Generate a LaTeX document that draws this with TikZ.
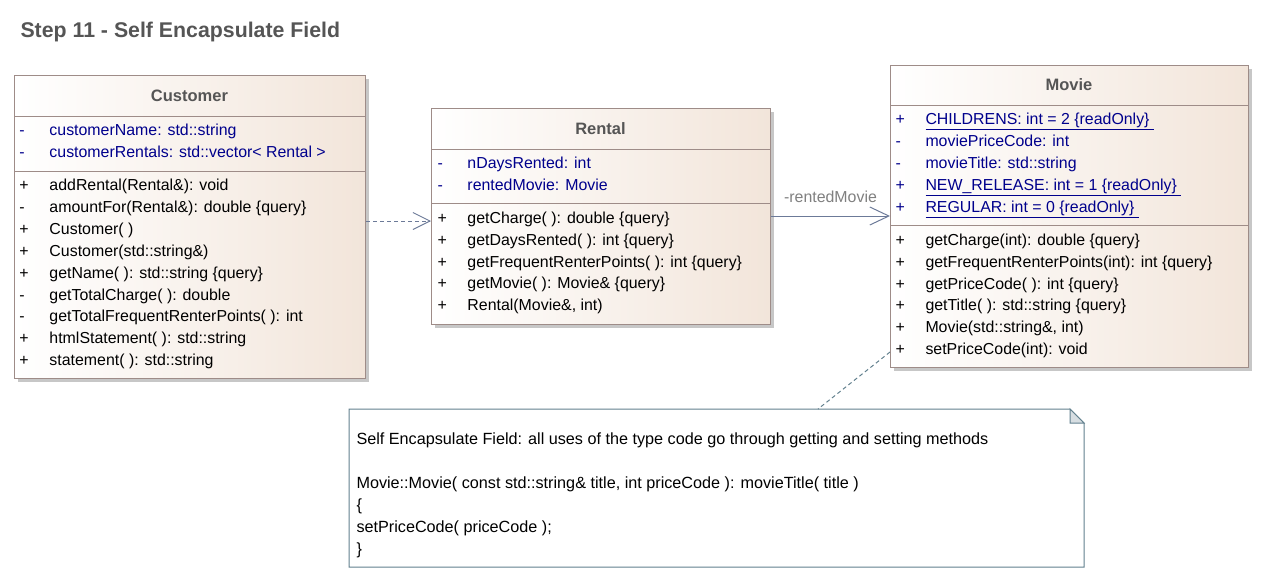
\documentclass[tikz,border=0pt]{standalone}
\usepackage{fontspec}
\setmainfont{Liberation Sans}
\usetikzlibrary{arrows.meta,shadows}

\definecolor{classedge}{RGB}{158,140,136}
\definecolor{classtint}{RGB}{242,229,218}
\definecolor{attrblue}{RGB}{0,0,140}
\definecolor{headgray}{RGB}{85,85,85}
\definecolor{linkblue}{RGB}{108,122,152}
\definecolor{noteedge}{RGB}{98,128,142}
\definecolor{foldgray}{RGB}{215,222,226}

\newcommand\vis[1]{\makebox[30pt][l]{#1}}
\newcommand\memberfont{\fontsize{15.9}{18}\selectfont}

\tikzset{
  classbox/.style={draw=classedge, left color=white, right color=classtint,
    anchor=north west, inner sep=0pt,
    drop shadow={shadow xshift=3pt, shadow yshift=-3pt, fill=black!22, opacity=1}},
  classrule/.style={draw=classedge},
  classname/.style={font=\bfseries\fontsize{16.5}{19}\selectfont, text=headgray},
  member/.style={anchor=west, inner sep=0pt, text height=13pt, text depth=2pt, font=\memberfont},
  attr/.style={member, text=attrblue},
  dep/.style={draw=linkblue, dash pattern=on 4pt off 3pt, -{Straight Barb[length=17pt,width=17pt]}},
  assoc/.style={draw=linkblue, -{Straight Barb[length=19pt,width=18pt]}},
  notelink/.style={draw=noteedge, dash pattern=on 4pt off 3pt},
}

\begin{document}
\begin{tikzpicture}[x=1pt, y=-1pt, line width=1pt]
  \useasboundingbox (0,0) rectangle (1268,581);

  \node[anchor=west, inner sep=0pt, font=\bfseries\fontsize{21.3}{24}\selectfont, text=headgray]
    (title) at (20,32) {Step 11 - Self Encapsulate Field};

  % Customer
  \node[classbox, minimum width=351pt, minimum height=303pt] (customer) at (14,75) {};
  \draw[classrule] (customer.west |- 0,116) -- (customer.east |- 0,116);
  \draw[classrule] (customer.west |- 0,171) -- (customer.east |- 0,171);
  \node[classname] (customer-name) at (189.5,96) {Customer};
  \foreach [count=\i] \v/\t in {-/customerName: std::string, -/customerRentals: std::vector< Rental >}
    \node[attr] (customer-attr\i) at (19,{130+22*(\i-1)}) {\vis{\v}\t};
  \foreach [count=\i] \v/\t in {+/addRental(Rental\&): void, -/amountFor(Rental\&): double \{query\},
      +/Customer( ), +/Customer(std::string\&), +/getName( ): std::string \{query\},
      -/getTotalCharge( ): double, -/getTotalFrequentRenterPoints( ): int,
      +/htmlStatement( ): std::string, +/statement( ): std::string}
    \node[member] (customer-op\i) at (19,{185+21.9*(\i-1)}) {\vis{\v}\t};

  % Rental
  \node[classbox, minimum width=339pt, minimum height=216pt] (rental) at (431,108) {};
  \draw[classrule] (rental.west |- 0,149) -- (rental.east |- 0,149);
  \draw[classrule] (rental.west |- 0,203) -- (rental.east |- 0,203);
  \node[classname] (rental-name) at (600.5,129) {Rental};
  \foreach [count=\i] \v/\t in {-/nDaysRented: int, -/rentedMovie: Movie}
    \node[attr] (rental-attr\i) at (437,{163+22*(\i-1)}) {\vis{\v}\t};
  \foreach [count=\i] \v/\t in {+/getCharge( ): double \{query\}, +/getDaysRented( ): int \{query\},
      +/getFrequentRenterPoints( ): int \{query\}, +/getMovie( ): Movie\& \{query\},
      +/{Rental(Movie\&, int)}}
    \node[member] (rental-op\i) at (437,{218+21.8*(\i-1)}) {\vis{\v}\t};

  % Movie
  \node[classbox, minimum width=358pt, minimum height=302pt] (movie) at (890,65) {};
  \draw[classrule] (movie.west |- 0,105) -- (movie.east |- 0,105);
  \draw[classrule] (movie.west |- 0,225) -- (movie.east |- 0,225);
  \node[classname] (movie-name) at (1069,85) {Movie};
  \foreach [count=\i] \v/\t in {+/\underline{CHILDRENS: int = 2 \{readOnly\}\ }, -/moviePriceCode: int,
      -/movieTitle: std::string, +/\underline{NEW\_RELEASE: int = 1 \{readOnly\}\ },
      +/\underline{REGULAR: int = 0 \{readOnly\}\ }}
    \node[attr] (movie-attr\i) at (895,{119+22*(\i-1)}) {\vis{\v}\t};
  \foreach [count=\i] \v/\t in {+/getCharge(int): double \{query\}, +/getFrequentRenterPoints(int): int \{query\},
      +/getPriceCode( ): int \{query\}, +/getTitle( ): std::string \{query\},
      +/{Movie(std::string\&, int)}, +/setPriceCode(int): void}
    \node[member] (movie-op\i) at (895,{240+21.8*(\i-1)}) {\vis{\v}\t};

  % note
  \node[minimum width=734pt, minimum height=157pt, anchor=north west, inner sep=0pt] (note) at (349,409) {};
  \draw[draw=noteedge, fill=white] (note.south west) -- (note.north west) -- ([xshift=-14pt]note.north east)
    -- ([yshift=-14pt]note.north east) -- (note.south east) -- cycle;
  \draw[draw=noteedge, fill=foldgray] ([xshift=-14pt]note.north east) -- ([yshift=-14pt]note.north east)
    -- ([xshift=-14pt,yshift=-14pt]note.north east) -- cycle;
  \node[anchor=north west, inner sep=0pt, align=left, font=\fontsize{16.2}{22}\selectfont] (note-text) at (356,432)
    {Self Encapsulate Field: all uses of the type code go through getting and setting methods\\[22pt]
     Movie::Movie( const std::string\& title, int priceCode ): movieTitle( title )\\
     \{\\
     setPriceCode( priceCode );\\
     \}};

  % connectors
  \draw[dep] (customer.east |- 0,221) -- (rental.west |- 0,221);
  \draw[assoc] (rental.east |- 0,216) -- (movie.west |- 0,216)
    node[midway, yshift=19pt, text=gray, font=\memberfont] (rented-label) {-rentedMovie};
  \draw[notelink] (movie.west |- 0,352) -- (note.north -| 818,0);
\end{tikzpicture}
\end{document}
